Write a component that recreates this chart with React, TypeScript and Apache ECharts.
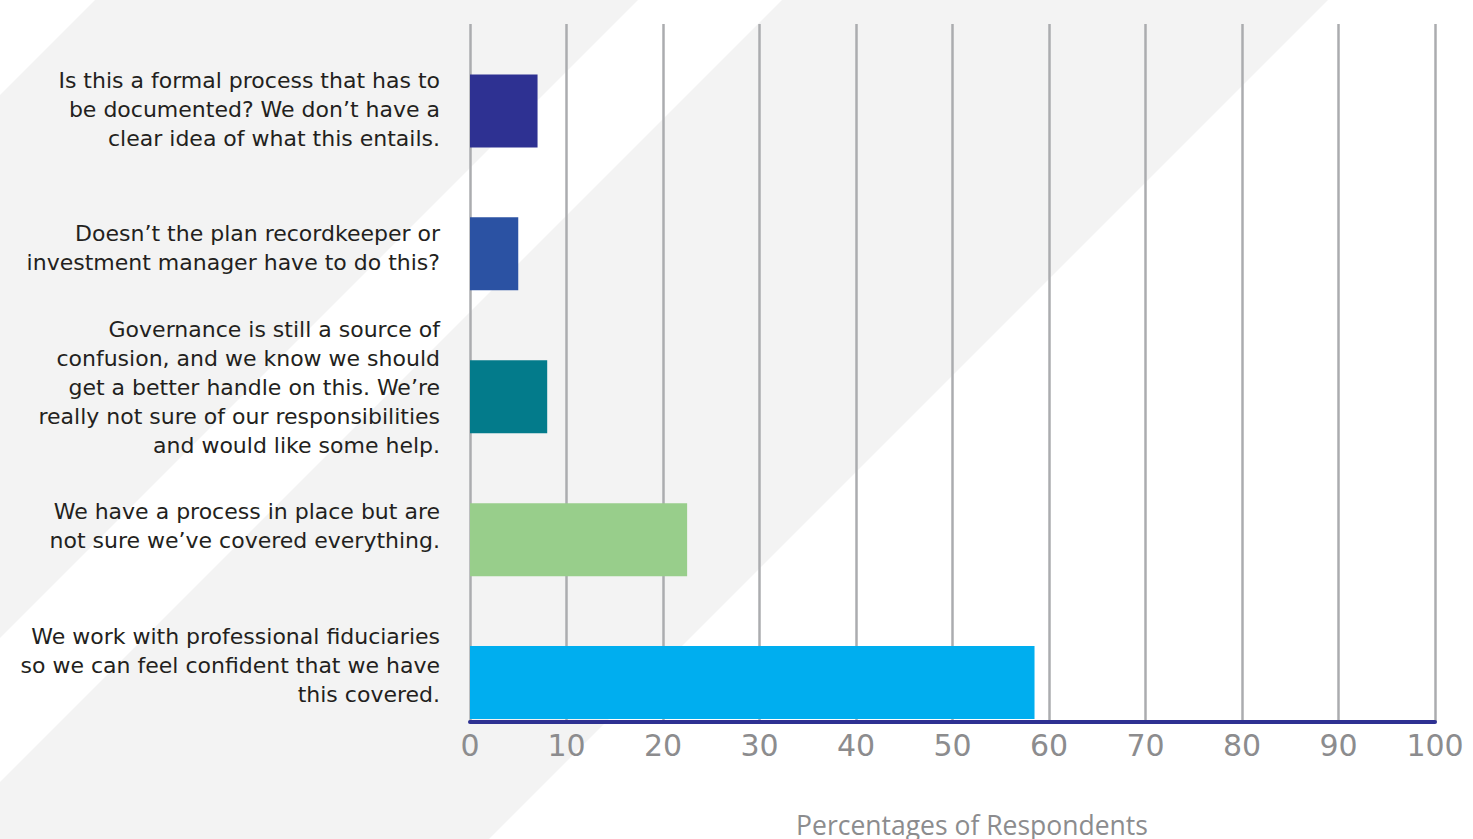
import { useEffect, useRef } from "react";
import * as echarts from "echarts";

// Survey answers, top to bottom
const categories = [
  "Is this a formal process that has to\nbe documented? We don’t have a\nclear idea of what this entails.",
  "Doesn’t the plan recordkeeper or\ninvestment manager have to do this?",
  "Governance is still a source of\nconfusion, and we know we should\nget a better handle on this. We’re\nreally not sure of our responsibilities\nand would like some help.",
  "We have a process in place but are\nnot sure we’ve covered everything.",
  "We work with professional fiduciaries\nso we can feel confident that we have\nthis covered.",
];

// Share of respondents (%)
const values = [7, 5, 8, 22.5, 58.5];

const barColors = ["#2e3192", "#2b52a3", "#037b8b", "#98ce8b", "#00aeef"];

const axisMin = 0;
const axisMax = 100;
const axisStep = 10;
const axisTitle = "Percentages of Respondents";

const W = 1473;
const H = 839;

export default function App() {
  const ref = useRef<HTMLDivElement>(null);

  useEffect(() => {
    if (!ref.current) return;
    const chart = echarts.init(ref.current, null, { renderer: "svg", width: W, height: H });

    const gray = "#f3f3f3";
    // diagonal background bands
    const bands = [
      [[95, 0], [638, 0], [0, 638], [0, 95]],
      [[782, 0], [1328, 0], [1328 - H, H], [0, H], [0, 782]],
    ];

    const fixedGrid = { left: 470, right: 38, containLabel: false, outerBoundsMode: "none" };

    chart.setOption({
      animation: false,
      backgroundColor: "#ffffff",
      graphic: bands.map((pts) => ({
        type: "polygon",
        z: -10,
        silent: true,
        shape: { points: pts },
        style: { fill: gray },
      })),
      grid: [
        // value grid: split lines and the baseline
        { ...fixedGrid, top: 24, bottom: 117 },
        // bar grid
        { ...fixedGrid, top: 39.5, bottom: 85 },
        // answer-label grid (text block spacing differs slightly from bars)
        { ...fixedGrid, top: 40, bottom: 104.5 },
      ],
      xAxis: [
        {
          type: "value",
          gridIndex: 0,
          min: axisMin,
          max: axisMax,
          interval: axisStep,
          axisLine: { show: true, onZero: false, lineStyle: { color: "#2e3192", width: 4 } },
          axisTick: { show: false },
          splitLine: { show: true, lineStyle: { color: "#abacaf", width: 2.5 } },
          axisLabel: {
            margin: 8,
            color: "#8c8c8e",
            fontSize: 30,
            fontFamily: "DejaVu Sans",
          },
          name: axisTitle,
          nameLocation: "middle",
          nameGap: 89,
          nameTextStyle: {
            color: "#8c8c8e",
            fontSize: 26.5,
            fontFamily: "Open Sans",
            padding: [0, 0, 0, 39],
          },
        },
        {
          type: "value",
          gridIndex: 1,
          min: axisMin,
          max: axisMax,
          show: false,
          splitLine: { show: false },
        },
        {
          type: "value",
          gridIndex: 2,
          min: axisMin,
          max: axisMax,
          show: false,
          splitLine: { show: false },
        },
      ],
      yAxis: [
        {
          type: "value",
          gridIndex: 0,
          min: 0,
          max: 1,
          show: false,
          splitLine: { show: false },
        },
        {
          type: "category",
          gridIndex: 1,
          inverse: true,
          data: categories,
          axisLine: { show: false },
          axisTick: { show: false },
          splitLine: { show: false },
          axisLabel: { show: false },
        },
        {
          type: "category",
          gridIndex: 2,
          inverse: true,
          data: categories,
          axisLine: { show: false },
          axisTick: { show: false },
          splitLine: { show: false },
          axisLabel: {
            interval: 0,
            margin: 30,
            color: "#231f20",
            fontSize: 22,
            lineHeight: 29,
            fontFamily: "DejaVu Sans",
          },
        },
      ],
      series: [
        {
          type: "bar",
          xAxisIndex: 1,
          yAxisIndex: 1,
          barWidth: 73,
          silent: true,
          data: values.map((v, i) => ({ value: v, itemStyle: { color: barColors[i] } })),
        },
      ],
    });

    return () => chart.dispose();
  }, []);

  return (
    <div
      ref={ref}
      style={{ position: "fixed", left: 0, top: 0, width: W, height: H, background: "#fff" }}
    />
  );
}
